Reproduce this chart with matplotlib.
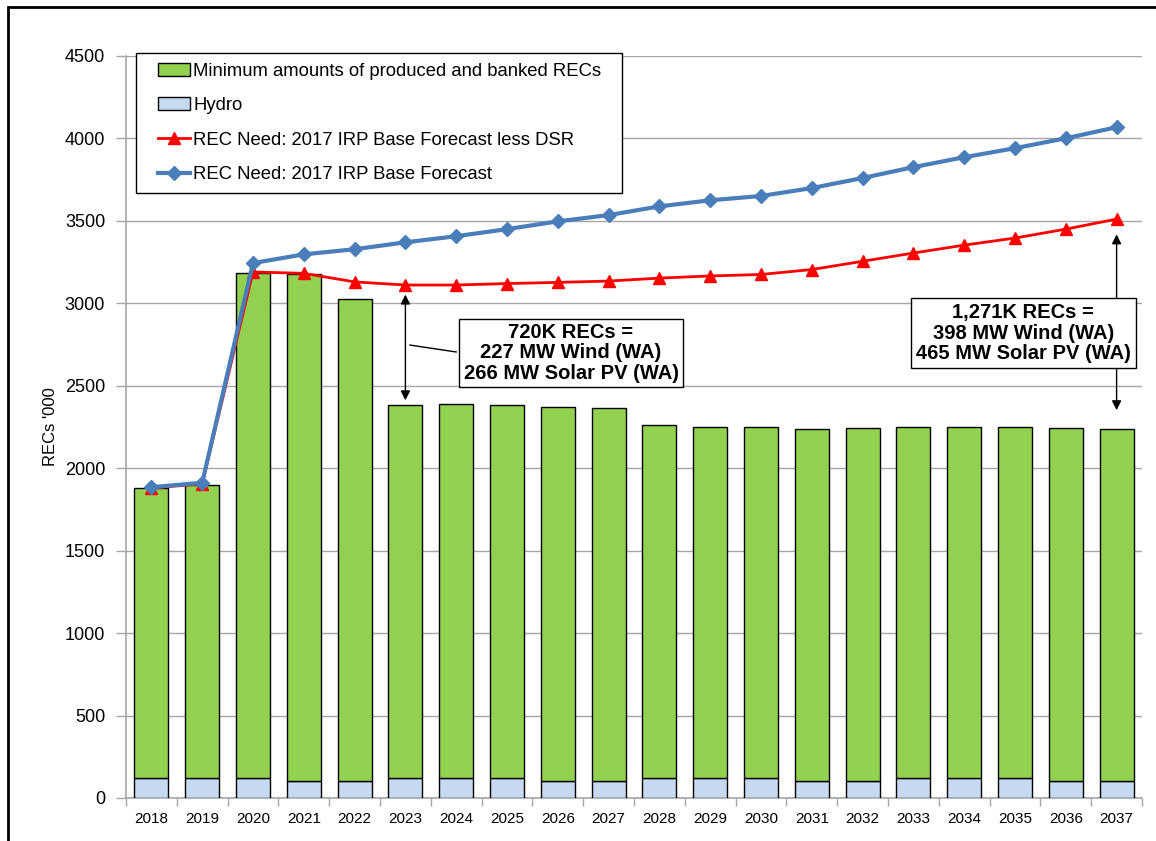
import numpy as np
import matplotlib
matplotlib.use("Agg")
import matplotlib.pyplot as plt
from matplotlib.patches import Rectangle, Patch
from matplotlib.lines import Line2D

plt.rcParams['font.family'] = ['Liberation Sans', 'DejaVu Sans']

years = [str(y) for y in range(2018, 2038)]
hydro = [120, 120, 120, 105, 105, 120, 120, 120, 105, 105,
         120, 120, 120, 105, 105, 120, 120, 120, 105, 105]
bar_top = [1880, 1900, 3185, 3180, 3025, 2385, 2390, 2385, 2370, 2365,
           2260, 2250, 2250, 2240, 2245, 2250, 2250, 2250, 2245, 2240]
green = [t - h for t, h in zip(bar_top, hydro)]
need_less_dsr = [1880, 1905, 3190, 3182, 3130, 3111, 3111, 3120, 3127, 3135,
                 3153, 3166, 3175, 3205, 3255, 3305, 3353, 3396, 3450, 3511]
need_base = [1885, 1912, 3244, 3297, 3328, 3370, 3407, 3450, 3497, 3535,
             3588, 3625, 3651, 3699, 3760, 3826, 3886, 3941, 4001, 4068]

green_c = '#92D050'
hydro_c = '#C6D9F1'
red_c = '#FF0000'
blue_c = '#4A7EBB'
grid_c = '#A6A6A6'

fig = plt.figure(figsize=(11.56, 8.41), dpi=100)
W, H = 1156, 841
ax = fig.add_axes([126 / W, 1 - 798 / H, 1016 / W, 742 / H])

x = np.arange(len(years))
ax.bar(x, hydro, width=0.67, color=hydro_c, edgecolor='black', linewidth=1, zorder=3)
ax.bar(x, green, width=0.67, bottom=hydro, color=green_c, edgecolor='black', linewidth=1, zorder=3)
ax.plot(x, need_less_dsr, color=red_c, lw=2, marker='^', ms=8, zorder=5)
ax.plot(x, need_base, color=blue_c, lw=3, marker='D', ms=7, zorder=6)

ax.set_xlim(-0.5, len(years) - 0.5)
ax.set_ylim(0, 4500)
ax.set_yticks(np.arange(0, 4501, 500))
ax.tick_params(axis='y', labelsize=13, length=7, color=grid_c, width=1, pad=8)
ax.set_xticks(x)
ax.set_xticklabels(years)
ax.tick_params(axis='x', which='major', length=0, labelsize=11, pad=10)
ax.set_xticks(np.arange(-0.5, len(years), 1), minor=True)
ax.tick_params(axis='x', which='minor', length=6, color=grid_c, width=1)
ax.yaxis.grid(True, color=grid_c, lw=1, zorder=0)
ax.set_axisbelow(True)
for s in ['top', 'right']:
    ax.spines[s].set_visible(False)
for s in ['left', 'bottom']:
    ax.spines[s].set_color(grid_c)
    ax.spines[s].set_linewidth(1.2)
ax.set_ylabel("RECs '000", fontsize=12, labelpad=5)

handles = [
    Patch(facecolor=green_c, edgecolor='black', lw=1),
    Patch(facecolor=hydro_c, edgecolor='black', lw=1),
    Line2D([], [], color=red_c, lw=2, marker='^', ms=8),
    Line2D([], [], color=blue_c, lw=3, marker='D', ms=7),
]
labels = ['Minimum amounts of produced and banked RECs', 'Hydro',
          'REC Need: 2017 IRP Base Forecast less DSR',
          'REC Need: 2017 IRP Base Forecast']
leg = ax.legend(handles, labels, loc='upper left',
                bbox_to_anchor=(158 / W, 1 - 62.5 / H), bbox_transform=fig.transFigure,
                borderaxespad=0, borderpad=0, fontsize=13.3, frameon=False,
                handlelength=1.73, handletextpad=0.18, labelspacing=0.955)
leg.set_zorder(11)
# legend frame
ax.add_patch(Rectangle((136 / W, 1 - 193 / H), (622 - 136) / W, (193 - 53) / H,
                       transform=fig.transFigure, facecolor='white', edgecolor='black',
                       lw=1, zorder=10, clip_on=False))

# annotation 1: 2023
ax.annotate('', xy=(5, 2395), xytext=(5, 3070),
            arrowprops=dict(arrowstyle='<|-|>', color='black', lw=1, mutation_scale=14),
            zorder=8)
ax.plot([5.09, 6.0], [2747, 2705], color='black', lw=1, zorder=8)
ax.text(8.26, 2699, '720K RECs =\n227 MW Wind (WA)\n266 MW Solar PV (WA)',
        ha='center', va='center', fontsize=14.5, fontweight='bold', linespacing=1.1,
        bbox=dict(boxstyle='square,pad=0.22', facecolor='white', edgecolor='black', lw=1),
        zorder=9)

# annotation 2: 2037
ax.annotate('', xy=(19, 2335), xytext=(19, 3435),
            arrowprops=dict(arrowstyle='<|-|>', color='black', lw=1, mutation_scale=14),
            zorder=8)
ax.text(17.16, 2820, '1,271K RECs =\n398 MW Wind (WA)\n465 MW Solar PV (WA)',
        ha='center', va='center', fontsize=14.5, fontweight='bold', linespacing=1.1,
        bbox=dict(boxstyle='square,pad=0.25', facecolor='white', edgecolor='black', lw=1),
        zorder=9)

# outer frame
fig.add_artist(Rectangle((8 / W, -0.1), 1.2, 1.1 - 7 / H, transform=fig.transFigure,
                         fill=False, edgecolor='black', lw=2))

fig.savefig('out.png', dpi=100)
